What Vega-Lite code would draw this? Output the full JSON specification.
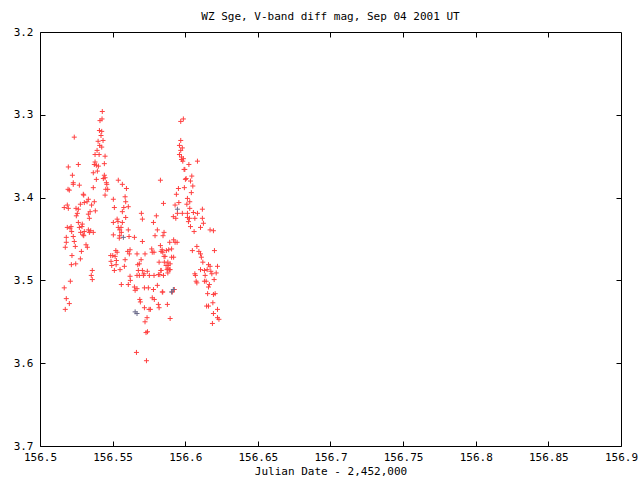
{
  "$schema": "https://vega.github.io/schema/vega-lite/v6.json",
  "autosize": "none",
  "width": 581,
  "height": 414,
  "padding": {"left": 40, "top": 32, "right": 19, "bottom": 34},
  "background": "white",
  "config": {
    "view": {"stroke": null},
    "axis": {"labelFont": "DejaVu Sans Mono", "titleFont": "DejaVu Sans Mono", "labelFontSize": 11, "titleFontSize": 11, "labelColor": "black", "titleColor": "black", "titleFontWeight": "normal", "grid": false, "domain": true, "domainColor": "black", "domainWidth": 1, "ticks": true, "tickColor": "black", "tickWidth": 1, "tickSize": -5}
  },
  "title": {"text": "WZ Sge, V-band diff mag, Sep 04 2001 UT", "font": "DejaVu Sans Mono", "fontSize": 11, "fontWeight": "normal", "color": "black", "anchor": "middle", "offset": 4},
  "data": {"values": [
    {"x":156.5167,"y":3.412,"c":"r"},{"x":156.5188,"y":3.409,"c":"r"},{"x":156.5195,"y":3.413,"c":"r"},{"x":156.5248,"y":3.413,"c":"r"},
    {"x":156.5264,"y":3.414,"c":"r"},{"x":156.5278,"y":3.408,"c":"r"},{"x":156.5305,"y":3.406,"c":"r"},{"x":156.5324,"y":3.405,"c":"r"},
    {"x":156.5355,"y":3.409,"c":"r"},{"x":156.5374,"y":3.405,"c":"r"},{"x":156.5345,"y":3.417,"c":"r"},{"x":156.5381,"y":3.416,"c":"r"},
    {"x":156.5257,"y":3.419,"c":"r"},{"x":156.5250,"y":3.422,"c":"r"},{"x":156.5333,"y":3.420,"c":"r"},{"x":156.5340,"y":3.425,"c":"r"},
    {"x":156.5264,"y":3.430,"c":"r"},{"x":156.5291,"y":3.432,"c":"r"},{"x":156.5289,"y":3.435,"c":"r"},{"x":156.5188,"y":3.436,"c":"r"},
    {"x":156.5214,"y":3.435,"c":"r"},{"x":156.5207,"y":3.437,"c":"r"},{"x":156.5271,"y":3.436,"c":"r"},{"x":156.5333,"y":3.439,"c":"r"},
    {"x":156.5349,"y":3.440,"c":"r"},{"x":156.5305,"y":3.441,"c":"r"},{"x":156.5280,"y":3.442,"c":"r"},{"x":156.5296,"y":3.445,"c":"r"},
    {"x":156.5340,"y":3.442,"c":"r"},{"x":156.5367,"y":3.442,"c":"r"},{"x":156.5218,"y":3.441,"c":"r"},{"x":156.5181,"y":3.448,"c":"r"},
    {"x":156.5229,"y":3.447,"c":"r"},{"x":156.5301,"y":3.446,"c":"r"},{"x":156.5181,"y":3.454,"c":"r"},{"x":156.5236,"y":3.453,"c":"r"},
    {"x":156.5317,"y":3.457,"c":"r"},{"x":156.5326,"y":3.460,"c":"r"},{"x":156.5243,"y":3.459,"c":"r"},{"x":156.5174,"y":3.460,"c":"r"},
    {"x":156.5285,"y":3.465,"c":"r"},{"x":156.5220,"y":3.470,"c":"r"},{"x":156.5278,"y":3.474,"c":"r"},{"x":156.5246,"y":3.480,"c":"r"},
    {"x":156.5216,"y":3.481,"c":"r"},{"x":156.5360,"y":3.488,"c":"r"},{"x":156.5353,"y":3.494,"c":"r"},{"x":156.5360,"y":3.499,"c":"r"},
    {"x":156.5209,"y":3.501,"c":"r"},{"x":156.5167,"y":3.509,"c":"r"},{"x":156.5181,"y":3.522,"c":"r"},{"x":156.5202,"y":3.528,"c":"r"},
    {"x":156.5174,"y":3.535,"c":"r"},
    {"x":156.5236,"y":3.327,"c":"r"},{"x":156.5264,"y":3.360,"c":"r"},{"x":156.5195,"y":3.363,"c":"r"},{"x":156.5223,"y":3.373,"c":"r"},
    {"x":156.5229,"y":3.382,"c":"r"},{"x":156.5229,"y":3.384,"c":"r"},{"x":156.5271,"y":3.385,"c":"r"},{"x":156.5193,"y":3.390,"c":"r"},
    {"x":156.5202,"y":3.391,"c":"r"},{"x":156.5298,"y":3.396,"c":"r"},{"x":156.5301,"y":3.397,"c":"r"},{"x":156.5333,"y":3.402,"c":"r"},
    {"x":156.5367,"y":3.370,"c":"r"},{"x":156.5367,"y":3.388,"c":"r"},{"x":156.5374,"y":3.360,"c":"r"},{"x":156.5379,"y":3.357,"c":"r"},
    {"x":156.5379,"y":3.348,"c":"r"},{"x":156.5388,"y":3.361,"c":"r"},{"x":156.5395,"y":3.368,"c":"r"},{"x":156.5402,"y":3.362,"c":"r"},
    {"x":156.5388,"y":3.378,"c":"r"},{"x":156.5393,"y":3.343,"c":"r"},{"x":156.5400,"y":3.332,"c":"r"},{"x":156.5407,"y":3.348,"c":"r"},
    {"x":156.5409,"y":3.319,"c":"r"},{"x":156.5411,"y":3.337,"c":"r"},{"x":156.5413,"y":3.307,"c":"r"},{"x":156.5420,"y":3.325,"c":"r"},
    {"x":156.5425,"y":3.320,"c":"r"},{"x":156.5425,"y":3.339,"c":"r"},{"x":156.5427,"y":3.305,"c":"r"},{"x":156.5429,"y":3.296,"c":"r"},
    {"x":156.5434,"y":3.331,"c":"r"},{"x":156.5436,"y":3.377,"c":"r"},{"x":156.5443,"y":3.359,"c":"r"},{"x":156.5443,"y":3.373,"c":"r"},
    {"x":156.5448,"y":3.350,"c":"r"},{"x":156.5448,"y":3.376,"c":"r"},{"x":156.5457,"y":3.382,"c":"r"},{"x":156.5460,"y":3.384,"c":"r"},
    {"x":156.5453,"y":3.390,"c":"r"},{"x":156.5448,"y":3.397,"c":"r"},{"x":156.5505,"y":3.402,"c":"r"},{"x":156.5512,"y":3.412,"c":"r"},
    {"x":156.5466,"y":3.390,"c":"r"},{"x":156.5539,"y":3.379,"c":"r"},{"x":156.5567,"y":3.384,"c":"r"},{"x":156.5595,"y":3.389,"c":"r"},
    {"x":156.5829,"y":3.379,"c":"r"},{"x":156.5586,"y":3.399,"c":"r"},{"x":156.5590,"y":3.405,"c":"r"},{"x":156.5850,"y":3.407,"c":"r"},
    {"x":156.5577,"y":3.412,"c":"r"},{"x":156.5608,"y":3.411,"c":"r"},{"x":156.5930,"y":3.409,"c":"r"},{"x":156.5567,"y":3.417,"c":"r"},
    {"x":156.5590,"y":3.424,"c":"r"},{"x":156.5698,"y":3.419,"c":"r"},{"x":156.5705,"y":3.426,"c":"r"},{"x":156.5801,"y":3.422,"c":"r"},
    {"x":156.5531,"y":3.426,"c":"r"},{"x":156.5537,"y":3.429,"c":"r"},{"x":156.5505,"y":3.430,"c":"r"},{"x":156.5567,"y":3.430,"c":"r"},
    {"x":156.5781,"y":3.430,"c":"r"},{"x":156.5539,"y":3.436,"c":"r"},{"x":156.5549,"y":3.439,"c":"r"},{"x":156.5558,"y":3.436,"c":"r"},
    {"x":156.5560,"y":3.442,"c":"r"},{"x":156.5608,"y":3.439,"c":"r"},{"x":156.5808,"y":3.439,"c":"r"},{"x":156.5505,"y":3.445,"c":"r"},
    {"x":156.5549,"y":3.446,"c":"r"},{"x":156.5546,"y":3.449,"c":"r"},{"x":156.5574,"y":3.448,"c":"g"},{"x":156.5613,"y":3.447,"c":"r"},
    {"x":156.5650,"y":3.448,"c":"r"},{"x":156.5854,"y":3.442,"c":"r"},{"x":156.5847,"y":3.446,"c":"r"},{"x":156.5792,"y":3.446,"c":"r"},
    {"x":156.5705,"y":3.453,"c":"r"},{"x":156.5893,"y":3.454,"c":"r"},{"x":156.5920,"y":3.451,"c":"r"},{"x":156.5930,"y":3.454,"c":"r"},
    {"x":156.5829,"y":3.458,"c":"r"},{"x":156.5769,"y":3.462,"c":"r"},{"x":156.5841,"y":3.463,"c":"r"},{"x":156.5870,"y":3.464,"c":"r"},
    {"x":156.5886,"y":3.463,"c":"r"},{"x":156.5906,"y":3.462,"c":"r"},{"x":156.5522,"y":3.464,"c":"r"},{"x":156.5531,"y":3.466,"c":"r"},
    {"x":156.5604,"y":3.465,"c":"r"},{"x":156.5620,"y":3.463,"c":"r"},{"x":156.5615,"y":3.468,"c":"r"},{"x":156.5668,"y":3.468,"c":"r"},
    {"x":156.5723,"y":3.468,"c":"r"},{"x":156.5773,"y":3.466,"c":"r"},{"x":156.5785,"y":3.466,"c":"r"},{"x":156.5487,"y":3.470,"c":"r"},
    {"x":156.5501,"y":3.470,"c":"r"},{"x":156.5517,"y":3.471,"c":"r"},{"x":156.5906,"y":3.472,"c":"r"},{"x":156.5920,"y":3.472,"c":"r"},
    {"x":156.5586,"y":3.475,"c":"r"},{"x":156.5526,"y":3.476,"c":"r"},{"x":156.5489,"y":3.477,"c":"r"},{"x":156.5696,"y":3.475,"c":"r"},
    {"x":156.5684,"y":3.480,"c":"r"},{"x":156.5673,"y":3.481,"c":"r"},{"x":156.5820,"y":3.478,"c":"r"},{"x":156.5856,"y":3.478,"c":"r"},
    {"x":156.5868,"y":3.482,"c":"r"},{"x":156.5896,"y":3.480,"c":"r"},{"x":156.5494,"y":3.482,"c":"r"},{"x":156.5524,"y":3.481,"c":"r"},
    {"x":156.5551,"y":3.487,"c":"r"},{"x":156.5880,"y":3.486,"c":"r"},{"x":156.5834,"y":3.465,"c":"r"},{"x":156.5854,"y":3.471,"c":"r"},
    {"x":156.5581,"y":3.483,"c":"r"},{"x":156.5512,"y":3.488,"c":"r"},{"x":156.5677,"y":3.488,"c":"r"},{"x":156.5705,"y":3.488,"c":"r"},
    {"x":156.5739,"y":3.489,"c":"r"},{"x":156.5832,"y":3.488,"c":"r"},{"x":156.5891,"y":3.487,"c":"r"},{"x":156.5880,"y":3.491,"c":"r"},
    {"x":156.5716,"y":3.492,"c":"r"},{"x":156.5668,"y":3.494,"c":"r"},{"x":156.5684,"y":3.494,"c":"r"},{"x":156.5753,"y":3.494,"c":"r"},
    {"x":156.5785,"y":3.494,"c":"r"},{"x":156.5815,"y":3.493,"c":"r"},{"x":156.5825,"y":3.493,"c":"r"},{"x":156.5850,"y":3.494,"c":"r"},
    {"x":156.5712,"y":3.494,"c":"r"},{"x":156.5620,"y":3.495,"c":"r"},{"x":156.5622,"y":3.500,"c":"r"},{"x":156.5560,"y":3.505,"c":"r"},
    {"x":156.5608,"y":3.505,"c":"r"},{"x":156.5650,"y":3.508,"c":"r"},{"x":156.5668,"y":3.510,"c":"r"},{"x":156.5655,"y":3.512,"c":"r"},
    {"x":156.5719,"y":3.509,"c":"r"},{"x":156.5746,"y":3.509,"c":"r"},{"x":156.5781,"y":3.511,"c":"r"},{"x":156.5808,"y":3.506,"c":"r"},
    {"x":156.5842,"y":3.514,"c":"r"},{"x":156.5906,"y":3.514,"c":"g"},{"x":156.5918,"y":3.511,"c":"g"},{"x":156.5687,"y":3.523,"c":"r"},
    {"x":156.5691,"y":3.526,"c":"r"},{"x":156.5773,"y":3.521,"c":"r"},{"x":156.5787,"y":3.523,"c":"r"},{"x":156.5877,"y":3.529,"c":"r"},
    {"x":156.5815,"y":3.529,"c":"r"},{"x":156.5820,"y":3.533,"c":"r"},{"x":156.5719,"y":3.533,"c":"r"},{"x":156.5751,"y":3.535,"c":"r"},
    {"x":156.5760,"y":3.535,"c":"r"},{"x":156.5655,"y":3.538,"c":"g"},{"x":156.5668,"y":3.540,"c":"g"},{"x":156.5737,"y":3.545,"c":"r"},
    {"x":156.5896,"y":3.546,"c":"r"},{"x":156.5723,"y":3.550,"c":"r"},{"x":156.5740,"y":3.562,"c":"r"},{"x":156.5730,"y":3.563,"c":"r"},
    {"x":156.5664,"y":3.587,"c":"r"},{"x":156.5733,"y":3.597,"c":"r"},
    {"x":156.5969,"y":3.308,"c":"r"},{"x":156.5987,"y":3.305,"c":"r"},{"x":156.5969,"y":3.331,"c":"r"},{"x":156.5960,"y":3.337,"c":"r"},
    {"x":156.5969,"y":3.343,"c":"r"},{"x":156.5980,"y":3.340,"c":"r"},{"x":156.5960,"y":3.348,"c":"r"},{"x":156.5974,"y":3.351,"c":"r"},
    {"x":156.5987,"y":3.353,"c":"r"},{"x":156.5974,"y":3.354,"c":"r"},{"x":156.5983,"y":3.356,"c":"r"},{"x":156.6025,"y":3.360,"c":"r"},
    {"x":156.6084,"y":3.356,"c":"r"},{"x":156.5992,"y":3.366,"c":"r"},{"x":156.5997,"y":3.366,"c":"r"},{"x":156.6006,"y":3.377,"c":"r"},
    {"x":156.6001,"y":3.378,"c":"r"},{"x":156.6045,"y":3.374,"c":"r"},{"x":156.6036,"y":3.380,"c":"r"},{"x":156.6052,"y":3.386,"c":"r"},
    {"x":156.5953,"y":3.389,"c":"r"},{"x":156.5994,"y":3.388,"c":"r"},{"x":156.6042,"y":3.394,"c":"r"},{"x":156.5939,"y":3.396,"c":"r"},
    {"x":156.6015,"y":3.401,"c":"r"},{"x":156.6031,"y":3.405,"c":"r"},{"x":156.5956,"y":3.406,"c":"r"},{"x":156.6011,"y":3.408,"c":"r"},
    {"x":156.6118,"y":3.414,"c":"r"},{"x":156.5946,"y":3.414,"c":"g"},{"x":156.6031,"y":3.413,"c":"r"},{"x":156.5918,"y":3.423,"c":"r"},
    {"x":156.5935,"y":3.425,"c":"r"},{"x":156.5946,"y":3.419,"c":"r"},{"x":156.5980,"y":3.419,"c":"r"},{"x":156.6015,"y":3.419,"c":"r"},
    {"x":156.6056,"y":3.418,"c":"r"},{"x":156.6084,"y":3.419,"c":"r"},{"x":156.6015,"y":3.424,"c":"r"},{"x":156.6029,"y":3.425,"c":"r"},
    {"x":156.6066,"y":3.425,"c":"r"},{"x":156.6118,"y":3.425,"c":"r"},
    {"x":156.6022,"y":3.429,"c":"r"},{"x":156.6125,"y":3.431,"c":"r"},{"x":156.6036,"y":3.435,"c":"r"},{"x":156.6105,"y":3.436,"c":"r"},
    {"x":156.6061,"y":3.441,"c":"r"},{"x":156.6171,"y":3.439,"c":"r"},{"x":156.6194,"y":3.440,"c":"r"},{"x":156.6080,"y":3.459,"c":"r"},
    {"x":156.6049,"y":3.464,"c":"r"},{"x":156.6094,"y":3.465,"c":"r"},{"x":156.6105,"y":3.468,"c":"r"},{"x":156.6111,"y":3.472,"c":"r"},
    {"x":156.6201,"y":3.464,"c":"r"},{"x":156.6121,"y":3.478,"c":"r"},{"x":156.6160,"y":3.481,"c":"r"},{"x":156.6171,"y":3.483,"c":"r"},
    {"x":156.6222,"y":3.483,"c":"r"},{"x":156.6105,"y":3.487,"c":"r"},{"x":156.6132,"y":3.488,"c":"r"},{"x":156.6151,"y":3.487,"c":"r"},
    {"x":156.6176,"y":3.489,"c":"r"},{"x":156.6183,"y":3.492,"c":"r"},{"x":156.6213,"y":3.491,"c":"r"},{"x":156.6066,"y":3.492,"c":"r"},
    {"x":156.6070,"y":3.494,"c":"r"},{"x":156.6137,"y":3.494,"c":"r"},{"x":156.6199,"y":3.499,"c":"r"},{"x":156.6144,"y":3.501,"c":"r"},
    {"x":156.6132,"y":3.501,"c":"r"},{"x":156.6075,"y":3.501,"c":"r"},{"x":156.6080,"y":3.503,"c":"r"},{"x":156.6166,"y":3.505,"c":"r"},
    {"x":156.6160,"y":3.508,"c":"r"},{"x":156.5925,"y":3.511,"c":"r"},{"x":156.5911,"y":3.514,"c":"r"},{"x":156.5845,"y":3.514,"c":"r"},
    {"x":156.6154,"y":3.516,"c":"r"},{"x":156.6194,"y":3.517,"c":"r"},{"x":156.6206,"y":3.516,"c":"r"},{"x":156.6190,"y":3.527,"c":"r"},
    {"x":156.6147,"y":3.531,"c":"r"},{"x":156.6160,"y":3.531,"c":"r"},{"x":156.6222,"y":3.535,"c":"r"},{"x":156.6194,"y":3.540,"c":"r"},
    {"x":156.6187,"y":3.552,"c":"r"},{"x":156.6222,"y":3.545,"c":"r"},{"x":156.6232,"y":3.547,"c":"r"},
    {"x":156.5845,"y":3.466,"c":"r"},{"x":156.5861,"y":3.471,"c":"r"},{"x":156.5880,"y":3.478,"c":"r"},{"x":156.5882,"y":3.482,"c":"r"},
    {"x":156.5875,"y":3.487,"c":"r"},{"x":156.5896,"y":3.487,"c":"r"},{"x":156.5834,"y":3.488,"c":"r"},{"x":156.5944,"y":3.454,"c":"r"}
  ]},
  "encoding": {
    "x": {"field": "x", "type": "quantitative", "scale": {"domain": [156.5, 156.9], "nice": false, "zero": false}},
    "y": {"field": "y", "type": "quantitative", "scale": {"domain": [3.2, 3.7], "reverse": true, "nice": false, "zero": false}}
  },
  "layer": [
    {
      "transform": [{"filter": "datum.c == 'r'"}],
      "mark": {"type": "point", "shape": "M-1,0H1M0,-1V1", "filled": false, "stroke": "#ff4040", "strokeWidth": 1, "size": 25, "opacity": 1},
      "encoding": {
        "x": {"field": "x", "type": "quantitative", "axis": {"orient": "bottom", "values": [156.5, 156.55, 156.6, 156.65, 156.7, 156.75, 156.8, 156.85, 156.9], "format": ".2~f", "title": "Julian Date - 2,452,000", "titlePadding": 3, "labelFlush": false, "labelPadding": 10}},
        "y": {"field": "y", "type": "quantitative", "axis": {"orient": "left", "values": [3.2, 3.3, 3.4, 3.5, 3.6, 3.7], "format": ".1f", "title": null, "labelPadding": 12}}
      }
    },
    {
      "transform": [{"filter": "datum.c == 'g'"}],
      "mark": {"type": "point", "shape": "M-1,0H1M0,-1V1", "filled": false, "stroke": "#6a6a8a", "strokeWidth": 1, "size": 25, "opacity": 1},
      "encoding": {
        "x": {"field": "x", "type": "quantitative", "axis": {"orient": "top", "values": [156.55, 156.6, 156.65, 156.7, 156.75, 156.8, 156.85], "labels": false, "title": null}},
        "y": {"field": "y", "type": "quantitative", "axis": {"orient": "right", "values": [3.3, 3.4, 3.5, 3.6], "labels": false, "title": null}}
      }
    }
  ],
  "resolve": {"axis": {"x": "independent", "y": "independent"}}
}
